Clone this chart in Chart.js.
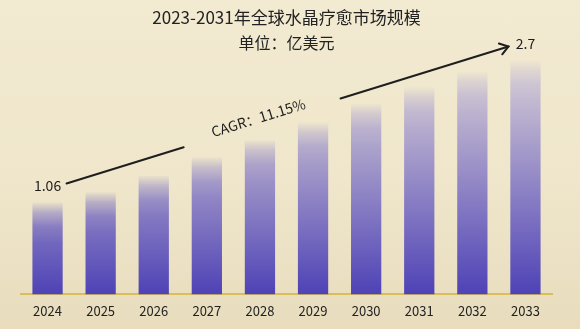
<!DOCTYPE html>
<html>
<head>
<meta charset="utf-8">
<script src="https://cdn.jsdelivr.net/npm/chart.js@4.4.1/dist/chart.umd.min.js"></script>
<style>
  html, body { margin: 0; padding: 0; }
  #wrap {
    width: 580px; height: 329px; position: relative; overflow: hidden;
    background: linear-gradient(180deg, #f2ead1 0%, #efe6cb 55%, #e8dcbd 100%);
  }
  canvas { display: block; }
</style>
</head>
<body>
<div id="wrap"><canvas id="c" width="580" height="329"></canvas></div>
<script>
const categories = ['2024', '2025', '2026', '2027', '2028', '2029', '2030', '2031', '2032', '2033'];
const marketSize = [1.06, 1.18, 1.37, 1.58, 1.78, 1.98, 2.20, 2.39, 2.57, 2.7];
const titleText = '2023-2031年全球水晶疗愈市场规模';
const subtitleText = '单位：亿美元';
const cagrText = 'CAGR：11.15%';
const labelledIdx = [0, marketSize.length - 1];

const FONT = "'Noto Sans CJK SC', 'Noto Sans', sans-serif";

// colour along the chart height (t=0 top, t=1 bottom)
function globalColor(t) {
  const stops = [
    [0.0, [214, 205, 214]],
    [0.5, [160, 150, 200]],
    [1.0, [78, 66, 182]]
  ];
  t = Math.max(0, Math.min(1, t));
  for (let i = 0; i < stops.length - 1; i++) {
    const [t0, c0] = stops[i], [t1, c1] = stops[i + 1];
    if (t >= t0 && t <= t1) {
      const f = (t - t0) / (t1 - t0);
      return c0.map((v, k) => Math.round(v + (c1[k] - v) * f));
    }
  }
  return stops[stops.length - 1][1];
}

function barFill(ctx) {
  const chart = ctx.chart;
  const area = chart.chartArea;
  const ys = chart.scales && chart.scales.y;
  if (!area || !ys || ctx.raw === undefined) return 'rgb(110,100,190)';
  const top = ys.getPixelForValue(ctx.raw);
  const base = ys.getPixelForValue(0);
  const h = base - top;
  const g = chart.ctx.createLinearGradient(0, top, 0, base);
  const fadeStops = [[0, 0.05], [10, 0.55], [24, 0.9], [40, 1]];
  const tAt = y => (y - area.top) / (area.bottom - area.top);
  fadeStops.forEach(([px, a]) => {
    const f = Math.min(1, px / h);
    const c = globalColor(tAt(top + f * h));
    g.addColorStop(f, `rgba(${c[0]},${c[1]},${c[2]},${a})`);
  });
  const cb = globalColor(1);
  g.addColorStop(1, `rgba(${cb[0]},${cb[1]},${cb[2]},1)`);
  return g;
}

const annotations = {
  id: 'annotations',
  afterDatasetsDraw(chart) {
    const c = chart.ctx;
    const xs = chart.scales.x, ys = chart.scales.y;
    c.save();
    c.fillStyle = '#1e1e1e';
    c.font = `14px ${FONT}`;
    c.textAlign = 'center';
    c.textBaseline = 'middle';
    labelledIdx.forEach(i => {
      c.fillText(String(marketSize[i]), xs.getPixelForValue(i), ys.getPixelForValue(marketSize[i]) - 17);
    });

    // CAGR arrow
    const last = marketSize.length - 1;
    const x0 = xs.getPixelForValue(0) + 19, y0 = ys.getPixelForValue(marketSize[0]) - 19;
    const x1 = xs.getPixelForValue(last) - 17, y1 = ys.getPixelForValue(marketSize[last]) - 14;
    const dx = x1 - x0, dy = y1 - y0;
    const ang = Math.atan2(dy, dx);
    const gapA = 0.265, gapB = 0.62;
    c.strokeStyle = '#1e1e1e';
    c.lineWidth = 2;
    c.lineCap = 'round';
    c.beginPath();
    c.moveTo(x0, y0);
    c.lineTo(x0 + dx * gapA, y0 + dy * gapA);
    c.moveTo(x0 + dx * gapB, y0 + dy * gapB);
    c.lineTo(x1, y1);
    c.stroke();
    // arrow head (open chevron)
    const L = 10, spread = 0.6;
    c.beginPath();
    c.moveTo(x1 - L * Math.cos(ang - spread), y1 - L * Math.sin(ang - spread));
    c.lineTo(x1, y1);
    c.lineTo(x1 - L * Math.cos(ang + spread), y1 - L * Math.sin(ang + spread));
    c.stroke();

    // text
    const fm = 0.438;
    const tx = x0 + dx * fm + 6 * Math.sin(ang) , ty = y0 + dy * fm - 6 * Math.cos(ang);
    c.translate(tx, ty);
    c.rotate(ang);
    c.font = `14px ${FONT}`;
    c.fillText(cagrText, 0, 0);
    c.restore();
  }
};

new Chart(document.getElementById('c'), {
  type: 'bar',
  data: {
    labels: categories,
    datasets: [{
      data: marketSize,
      backgroundColor: barFill,
      borderWidth: 0,
      categoryPercentage: 1.0,
      barPercentage: 0.57
    }]
  },
  options: {
    responsive: false,
    animation: false,
    devicePixelRatio: 1,
    layout: { padding: { left: 21, right: 28, top: 0, bottom: 1 } },
    plugins: {
      legend: { display: false },
      tooltip: { enabled: false },
      title: {
        display: true, text: titleText, color: '#222',
        font: { family: FONT, size: 17, weight: 'normal', lineHeight: 1.2 },
        padding: { top: 7, bottom: 6 }
      },
      subtitle: {
        display: true, text: subtitleText, color: '#222',
        font: { family: FONT, size: 16, weight: 'normal', lineHeight: 1.2 },
        padding: { top: 0, bottom: 3.5 }
      }
    },
    scales: {
      x: {
        grid: { display: false, drawTicks: false },
        border: { display: true, color: '#d8bf5a', width: 2 },
        ticks: { color: '#222', font: { family: FONT, size: 13 }, padding: 9 }
      },
      y: {
        display: false, min: 0, max: 2.75
      }
    }
  },
  plugins: [annotations]
});
</script>
</body>
</html>
